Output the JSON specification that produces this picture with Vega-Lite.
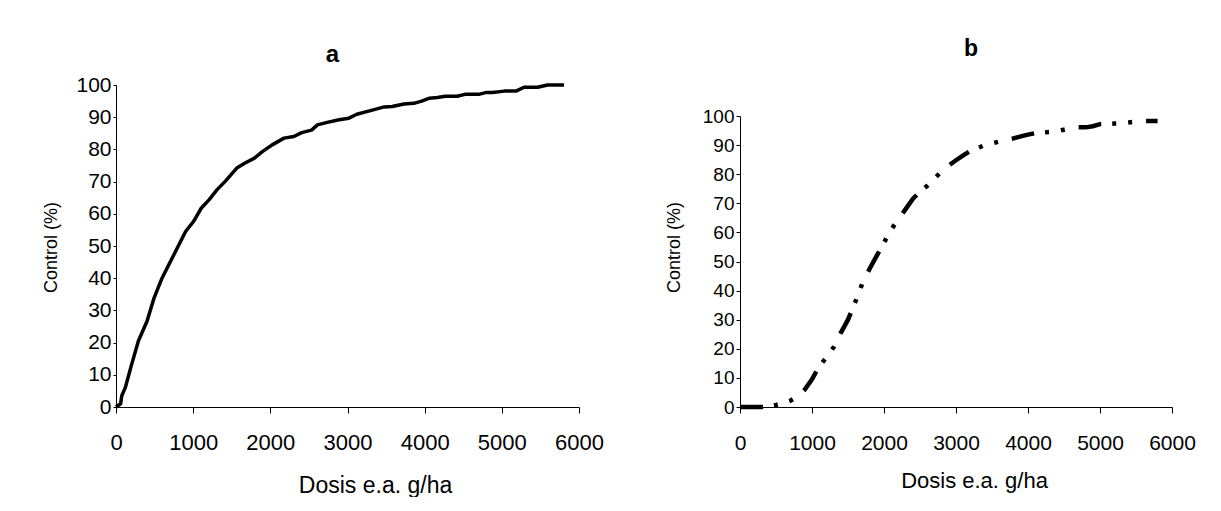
{
  "$schema": "https://vega.github.io/schema/vega-lite/v6.json",
  "padding": {"left": 42, "top": 37, "right": 0, "bottom": 0},
  "background": "white",
  "config": {
    "view": {"stroke": null},
    "font": "Liberation Sans",
    "axis": {"domainColor": "#000", "tickColor": "#000", "labelColor": "#000", "titleColor": "#000", "grid": false, "titleFontWeight": "normal", "labelFont": "Liberation Sans", "titleFont": "Liberation Sans", "domainWidth": 1, "tickWidth": 1, "labelFlush": false, "labelOverlap": false, "format": "d"},
    "title": {"fontWeight": "bold", "color": "#000", "anchor": "middle", "font": "Liberation Sans"}
  },
  "spacing": 161,
  "bounds": "flush",
  "hconcat": [
    {
      "width": 463,
      "height": 322,
      "title": {"text": "a", "fontSize": 24, "offset": 7, "dx": -15},
      "data": {"values": [
        {"dose": 0, "control": 0}, {"dose": 60, "control": 1}, {"dose": 75, "control": 3.5}, {"dose": 120, "control": 6},
        {"dose": 200, "control": 13}, {"dose": 290, "control": 20.5}, {"dose": 403, "control": 26.7}, {"dose": 494, "control": 33.9},
        {"dose": 596, "control": 40}, {"dose": 750, "control": 47.3}, {"dose": 902, "control": 54.5}, {"dose": 1004, "control": 57.6},
        {"dose": 1106, "control": 61.8}, {"dose": 1208, "control": 64.4}, {"dose": 1310, "control": 67.5}, {"dose": 1412, "control": 70},
        {"dose": 1565, "control": 74.2}, {"dose": 1667, "control": 75.7}, {"dose": 1794, "control": 77.3}, {"dose": 1896, "control": 79.3},
        {"dose": 2024, "control": 81.4}, {"dose": 2177, "control": 83.5}, {"dose": 2304, "control": 84}, {"dose": 2406, "control": 85.2},
        {"dose": 2534, "control": 86}, {"dose": 2610, "control": 87.6}, {"dose": 2738, "control": 88.4}, {"dose": 2891, "control": 89.2},
        {"dose": 3018, "control": 89.7}, {"dose": 3120, "control": 90.9}, {"dose": 3273, "control": 91.9}, {"dose": 3477, "control": 93.2},
        {"dose": 3579, "control": 93.3}, {"dose": 3732, "control": 94.1}, {"dose": 3859, "control": 94.3}, {"dose": 3961, "control": 95},
        {"dose": 4063, "control": 95.9}, {"dose": 4165, "control": 96.1}, {"dose": 4267, "control": 96.5}, {"dose": 4420, "control": 96.5},
        {"dose": 4522, "control": 97.1}, {"dose": 4700, "control": 97.1}, {"dose": 4802, "control": 97.7}, {"dose": 4879, "control": 97.7},
        {"dose": 5032, "control": 98.1}, {"dose": 5185, "control": 98.1}, {"dose": 5287, "control": 99.3}, {"dose": 5465, "control": 99.3},
        {"dose": 5592, "control": 100}, {"dose": 5806, "control": 100}
      ]},
      "mark": {"type": "line", "color": "#000", "strokeWidth": 3.5, "strokeJoin": "round"},
      "encoding": {
        "x": {"field": "dose", "type": "quantitative", "scale": {"domain": [0, 6000], "nice": false},
          "axis": {"title": "Dosis e.a. g/ha", "values": [0, 1000, 2000, 3000, 4000, 5000, 6000], "tickSize": 6, "labelPadding": 19, "labelFontSize": 22, "titleFontSize": 23, "titleX": 259, "titleY": 78, "titleBaseline": "middle"}},
        "y": {"field": "control", "type": "quantitative", "scale": {"domain": [0, 100], "nice": false},
          "axis": {"title": "Control (%)", "values": [0, 10, 20, 30, 40, 50, 60, 70, 80, 90, 100], "tickSize": 3, "labelPadding": 2, "labelFontSize": 21, "titleFontSize": 18, "titleX": -65, "titleY": 162, "titleBaseline": "middle"}}
      }
    },
    {
      "width": 432,
      "height": 322,
      "title": {"text": "b", "fontSize": 23, "offset": 24.5, "dx": 15},
      "data": {"values": [
        {"dose": 0, "control": 0}, {"dose": 100, "control": 0}, {"dose": 200, "control": 0}, {"dose": 300, "control": 0},
        {"dose": 400, "control": 0.3}, {"dose": 500, "control": 0.7}, {"dose": 600, "control": 1.3}, {"dose": 700, "control": 2.2},
        {"dose": 800, "control": 3.6}, {"dose": 900, "control": 6}, {"dose": 1000, "control": 9.5}, {"dose": 1100, "control": 14},
        {"dose": 1200, "control": 17}, {"dose": 1300, "control": 20.5}, {"dose": 1400, "control": 25.5}, {"dose": 1500, "control": 30},
        {"dose": 1600, "control": 36}, {"dose": 1700, "control": 42.5}, {"dose": 1800, "control": 47.5}, {"dose": 1900, "control": 52},
        {"dose": 2000, "control": 56.5}, {"dose": 2100, "control": 61}, {"dose": 2200, "control": 64.5}, {"dose": 2300, "control": 68},
        {"dose": 2400, "control": 71.5}, {"dose": 2500, "control": 74}, {"dose": 2600, "control": 76}, {"dose": 2700, "control": 78.5},
        {"dose": 2800, "control": 81}, {"dose": 2900, "control": 83}, {"dose": 3000, "control": 84.8}, {"dose": 3100, "control": 86.5},
        {"dose": 3200, "control": 88}, {"dose": 3300, "control": 89}, {"dose": 3400, "control": 90}, {"dose": 3500, "control": 90.6},
        {"dose": 3600, "control": 91.2}, {"dose": 3700, "control": 91.6}, {"dose": 3800, "control": 92.3}, {"dose": 3900, "control": 93},
        {"dose": 4000, "control": 93.6}, {"dose": 4100, "control": 94.1}, {"dose": 4200, "control": 94.3}, {"dose": 4300, "control": 94.5},
        {"dose": 4400, "control": 94.8}, {"dose": 4500, "control": 95.3}, {"dose": 4600, "control": 95.8}, {"dose": 4700, "control": 96.1},
        {"dose": 4800, "control": 96.1}, {"dose": 4900, "control": 96.5}, {"dose": 5000, "control": 97.2}, {"dose": 5100, "control": 97.3},
        {"dose": 5200, "control": 97.4}, {"dose": 5300, "control": 97.5}, {"dose": 5400, "control": 97.8}, {"dose": 5500, "control": 98.1},
        {"dose": 5600, "control": 98.3}, {"dose": 5700, "control": 98.3}, {"dose": 5800, "control": 98.3}
      ]},
      "mark": {"type": "line", "color": "#000", "strokeWidth": 4.5, "strokeDash": [23, 11, 4, 12, 4, 14], "strokeCap": "butt"},
      "encoding": {
        "x": {"field": "dose", "type": "quantitative", "scale": {"domain": [0, 6000], "nice": false},
          "axis": {"title": "Dosis e.a. g/ha", "values": [0, 1000, 2000, 3000, 4000, 5000, 6000], "tickSize": 6, "labelPadding": 19, "labelFontSize": 21, "titleFontSize": 22, "titleX": 234, "titleY": 73, "titleBaseline": "middle"}},
        "y": {"field": "control", "type": "quantitative", "scale": {"domain": [0, 100], "nice": false, "range": [322, 31]},
          "axis": {"title": "Control (%)", "values": [0, 10, 20, 30, 40, 50, 60, 70, 80, 90, 100], "tickSize": 4, "labelPadding": 2, "labelFontSize": 19, "titleFontSize": 18, "titleX": -66, "titleY": 162, "titleBaseline": "middle"}}
      }
    }
  ]
}
